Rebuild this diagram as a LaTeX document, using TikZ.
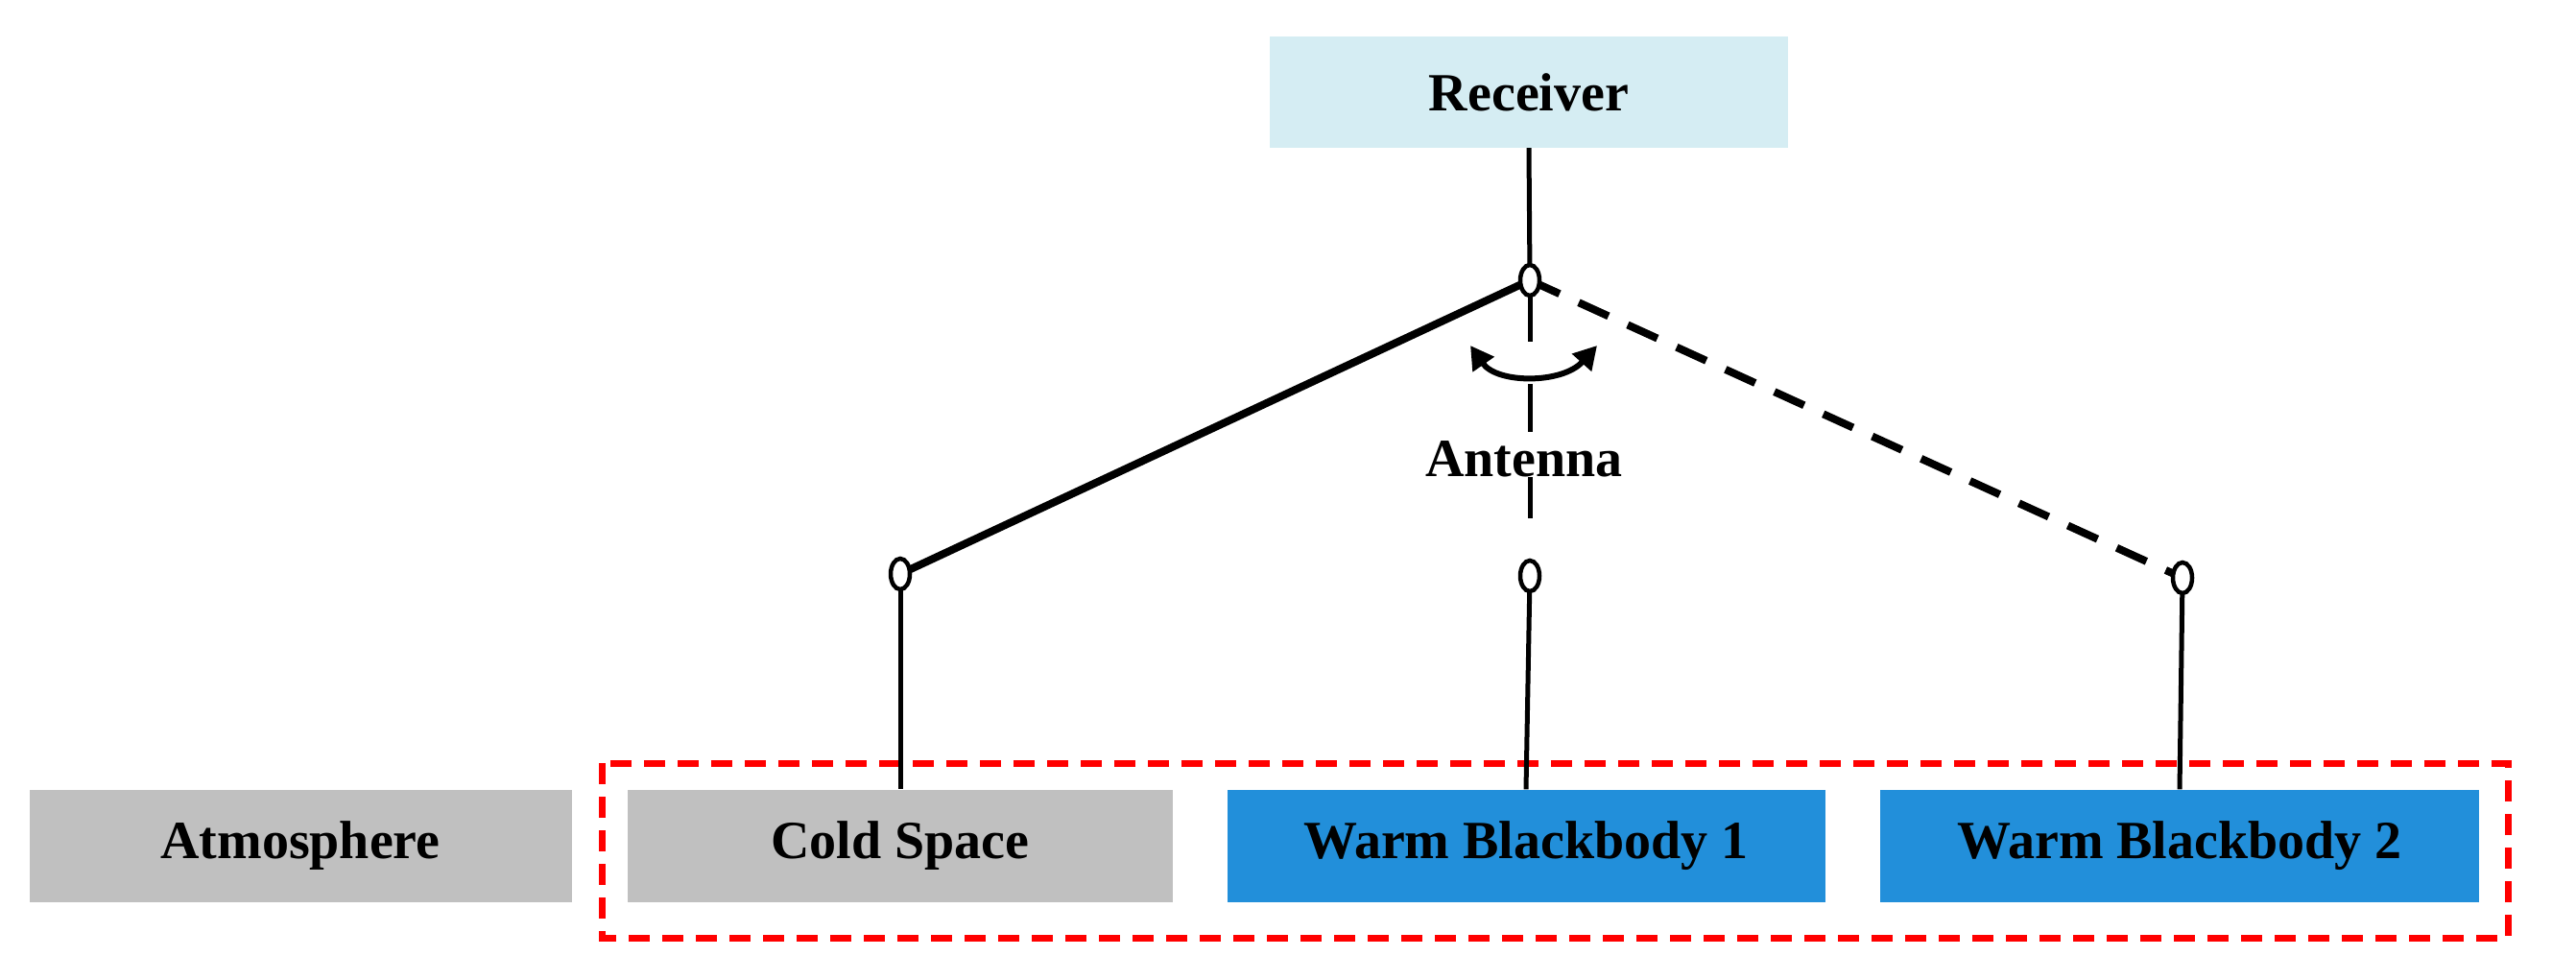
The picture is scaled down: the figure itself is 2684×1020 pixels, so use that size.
\documentclass[tikz,border=0pt]{standalone}
\usepackage{fontspec}
\setmainfont{Liberation Serif}
\usetikzlibrary{arrows.meta,shapes.geometric}
\definecolor{recv}{HTML}{D5EDF3}
\definecolor{greybox}{HTML}{C0C0C0}
\definecolor{bluebox}{HTML}{228FDA}
\tikzset{
  lbl/.style={font=\fontsize{56}{64}\selectfont\bfseries, text=black},
  box/.style={lbl, draw=none, minimum height=117pt, inner sep=0pt},
  pin/.style={ellipse, draw=black, line width=4.5pt, fill=white, minimum width=20pt, minimum height=32pt, inner sep=0pt},
  wire/.style={line width=5pt, draw=black},
  thick wire/.style={line width=8pt, draw=black},
}
\begin{document}
\begin{tikzpicture}[x=1pt,y=-1pt]
\useasboundingbox (0,0) rectangle (2684,1020);
% boxes
\node[box, fill=recv, minimum width=540pt, minimum height=116pt] (rec) at (1593,96) {Receiver};
\node[box, fill=greybox, minimum width=565pt] (atm) at (313,881) {Atmosphere};
\node[box, fill=greybox, minimum width=568pt] (cold) at (938,881) {Cold Space};
\node[box, fill=bluebox, minimum width=623pt] (wb1) at (1590,881) {Warm Blackbody 1};
\node[box, fill=bluebox, minimum width=624pt] (wb2) at (2271,881) {Warm Blackbody 2};
% red dashed group
\draw[red, line width=7pt, dash pattern=on 22pt off 13pt] (627,795) rectangle (2613,977);
% pins
\coordinate (top) at (1594,292);
\coordinate (pl) at (938,598);
\coordinate (pm) at (1594,600);
\coordinate (pr) at (2274,602);
% connectors
\draw[wire] (rec.south) -- (top);
\draw[thick wire] (top) -- (pl);
\draw[thick wire, dash pattern=on 34pt off 22pt] (top) -- (pr);
\draw[wire] (top) -- (1594,356);
\draw[wire] (1594,400) -- (1594,450);
\draw[wire] (1594,497) -- (1594,540);
\draw[wire] (pl) -- (cold.north);
\draw[wire] (pm) -- (wb1.north);
\draw[wire] (pr) -- (wb2.north);
\node[pin] (ctop) at (top) {};
\node[pin] (cl) at (pl) {};
\node[pin] (cm) at (pm) {};
\node[pin] (cr) at (pr) {};
% rotation arrow
\draw[line width=6pt, {Triangle[length=24pt,width=26pt]}-{Triangle[length=24pt,width=26pt]}]
  (1532,360) .. controls (1560,400) and (1628,400) .. (1664,360);
\node[lbl, inner sep=1pt] (ant) at (1588,478) {Antenna};
\end{tikzpicture}
\end{document}
